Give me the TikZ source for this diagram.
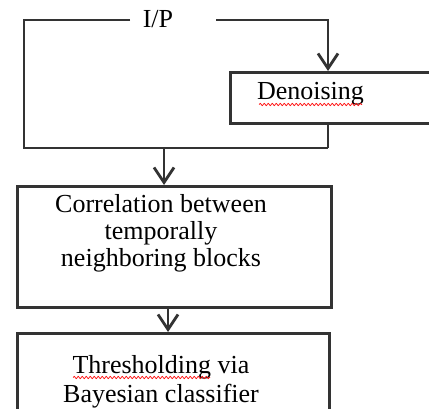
\documentclass[tikz,border=0pt]{standalone}
\usepackage{fontspec}
\setmainfont{Liberation Serif}
\usetikzlibrary{arrows.meta,decorations.pathmorphing}
\begin{document}
\begin{tikzpicture}[x=1pt,y=-1pt,
  wire/.style={draw=black!80, line width=2.8pt},
  flow/.style={wire, -{Straight Barb[length=15pt,width=20pt]}},
  boxshape/.style={draw=black!80, line width=2.8pt, inner sep=0pt},
  txt/.style={font=\fontsize{26}{27}\selectfont, align=center, inner sep=0pt},
  spell/.style={draw=red, line width=0.7pt, decorate,
    decoration={snake, amplitude=1.2pt, segment length=4pt}}]
  \useasboundingbox (0,0) rectangle (429,409);
  \fill[white] (0,0) rectangle (429,409);
  \clip (0,0) rectangle (429,409);

  % blocks
  \node[boxshape, anchor=north west, minimum width=230pt, minimum height=51pt] (deno) at (229,71) {};
  \node[boxshape, anchor=north west, minimum width=314pt, minimum height=121pt] (corr) at (16,185) {};
  \node[boxshape, anchor=north west, minimum width=312pt, minimum height=120pt] (thr) at (16,332) {};

  % labels (base anchor sits on the last line)
  \node[txt, anchor=base] (ip) at (158,28) {I/P};
  \node[txt, anchor=base] (denotxt) at (310.5,100) {Denoising};
  \node[txt, anchor=base] (corrtxt) at (161,266) {Correlation between\\temporally\\neighboring blocks};
  \node[txt, anchor=base, font=\fontsize{26}{28.5}\selectfont] (thrtxt) at (161,402) {Thresholding via\\Bayesian classifier};

  % spelling marks under the words
  \draw[spell] (259,104.5) -- (362,104.5);
  \draw[spell] (73,377.5) -- (210,377.5);

  % routing points
  \coordinate (ipL) at (130,20);
  \coordinate (ipR) at (216,20);
  \coordinate (tl) at (24,20);
  \coordinate (bl) at (24,148);
  \coordinate (split) at (328,20);
  \coordinate (join) at (328,148);
  \coordinate (merge) at (164,148);
  \coordinate (mid) at (168,0);

  % input to denoising
  \draw[flow] (ipR) -- (split) -- (split |- deno.north);
  % bypass loop and merge
  \draw[wire] (ipL) -- (tl) -- (bl) -- (join);
  \draw[wire] (deno.south -| join) -- (join);
  \draw[flow] (merge) -- (merge |- corr.north);
  % correlation to thresholding
  \draw[flow] (corr.south -| mid) -- (thr.north -| mid);
\end{tikzpicture}
\end{document}
